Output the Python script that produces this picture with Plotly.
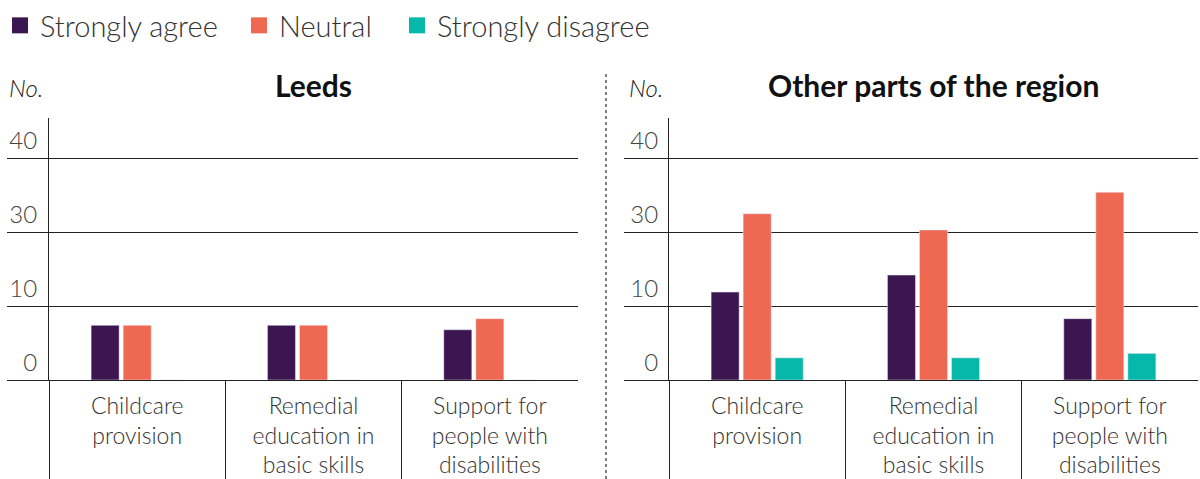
import plotly.graph_objects as go

categories = ["Childcare<br>provision", "Remedial<br>education in<br>basic skills", "Support for<br>people with<br>disabilities"]
series_names = ["Strongly agree", "Neutral", "Strongly disagree"]
colors = ["#3C1650", "#EF6952", "#06B8AA"]

leeds_agree = [7.4, 7.4, 6.8]
leeds_neutral = [7.4, 7.4, 8.3]
leeds_disagree = [0, 0, 0]

other_agree = [11.9, 14.2, 8.3]
other_neutral = [22.5, 20.3, 25.4]
other_disagree = [3.0, 3.0, 3.6]

y_tickvals = [0, 10, 20, 30]
y_ticktext = ["0", "10", "30", "40"]

FONT = "Lato"
TXT = "#333333"
x_pos = list(range(len(categories)))

fig = go.Figure()
leeds = [leeds_agree, leeds_neutral, leeds_disagree]
other = [other_agree, other_neutral, other_disagree]
for i, name in enumerate(series_names):
    fig.add_trace(go.Bar(x=x_pos, y=leeds[i], marker_color=colors[i], name=name,
                         showlegend=False, xaxis="x", yaxis="y", hoverinfo="skip"))
    fig.add_trace(go.Bar(x=x_pos, y=other[i], marker_color=colors[i], name=name,
                         showlegend=False, xaxis="x2", yaxis="y2", hoverinfo="skip"))

legend_names = ["legend", "legend2", "legend3"]
for i, name in enumerate(series_names):
    fig.add_trace(go.Scatter(x=[None], y=[None], mode="markers", name=name,
                             marker=dict(symbol="square", size=18, color=colors[i]),
                             legend=legend_names[i], xaxis="x", yaxis="y", showlegend=True))

W = 1200
axis_common_x = dict(range=[-0.5, 2.5], tickvals=x_pos, ticktext=categories, ticks="",
                     showgrid=False, zeroline=False, showline=True, linecolor="#222", linewidth=1,
                     ticklabelstandoff=5,
                     tickfont=dict(family=FONT, size=23, color=TXT, weight=300),
                     minor=dict(tickvals=[-0.5, 0.5, 1.5], ticks="outside", ticklen=99,
                                tickcolor="#222", tickwidth=1), fixedrange=True)
axis_common_y = dict(range=[0, 35.45], tickvals=y_tickvals, ticktext=y_ticktext,
                     showgrid=True, gridcolor="#222", gridwidth=1, zeroline=False,
                     showline=True, linecolor="#222", linewidth=1, ticks="outside",
                     tickcolor="#222", tickwidth=1, ticklabelposition="outside top",
                     tickfont=dict(family=FONT, size=24, color="#444", weight=300), fixedrange=True)

fig.update_layout(
    width=W, height=479,
    margin=dict(l=0, r=2, t=118, b=99),
    paper_bgcolor="white", plot_bgcolor="white",
    barmode="group", bargap=0.455, bargroupgap=0.125,
    xaxis=dict(domain=[49/1198, 578/1198], anchor="y", **axis_common_x),
    xaxis2=dict(domain=[669/1198, 1.0], anchor="y2", **axis_common_x),
    yaxis=dict(anchor="x", ticklen=41, ticklabelstandoff=6, **axis_common_y),
    yaxis2=dict(anchor="x2", ticklen=44, ticklabelstandoff=5, **axis_common_y),
    font=dict(family=FONT, color=TXT),
)

leg_x = [6, 259, 417]
for i, ln in enumerate(legend_names):
    fig.update_layout({ln: dict(x=(leg_x[i]-20)/W, y=1, xref="container", yref="container",
                                xanchor="left", yanchor="top", orientation="h",
                                bgcolor="rgba(0,0,0,0)", borderwidth=0,
                                font=dict(family=FONT, size=29, color=TXT, weight=300),
                                itemclick=False, itemdoubleclick=False)})

fig.add_annotation(text="<b>Leeds</b>", xref="x domain", yref="paper", x=0.5, y=1,
                   yshift=33, yanchor="middle", showarrow=False,
                   font=dict(family=FONT, size=30, color="#111"))
fig.add_annotation(text="<b>Other parts of the region</b>", xref="x2 domain", yref="paper", x=0.5, y=1,
                   yshift=33, yanchor="middle", showarrow=False,
                   font=dict(family=FONT, size=30, color="#111"))
for px in [7, 627]:
    fig.add_annotation(text="<i>No.</i>", xref="paper", yref="paper", x=px/1198, y=1,
                       yshift=31, xanchor="left", yanchor="middle", showarrow=False,
                       font=dict(family=FONT, size=24, color="#222", weight=300))

fig.add_shape(type="line", xref="paper", yref="paper", x0=606/1198, x1=606/1198,
              y0=-99/262, y1=1 + 44/262, line=dict(color="#555", width=1.5, dash="dot"))

fig.write_html("out.html")
